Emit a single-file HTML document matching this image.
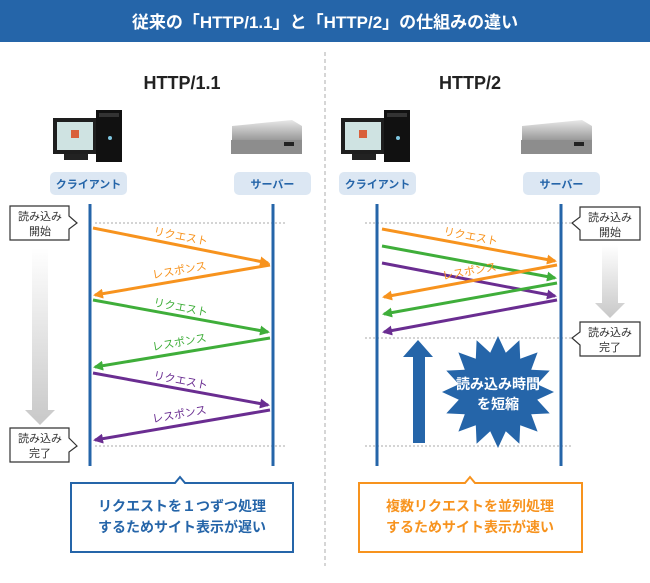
<!DOCTYPE html>
<html><head><meta charset="utf-8"><style>
html,body{margin:0;padding:0;background:#fff}
svg{display:block}
text{font-family:"Liberation Sans","Noto Sans CJK JP",sans-serif}
</style></head><body>
<svg width="650" height="583" viewBox="0 0 650 583" xmlns="http://www.w3.org/2000/svg">
<defs>
<marker id="mo" markerWidth="10" markerHeight="10" refX="8" refY="5" orient="auto" markerUnits="userSpaceOnUse"><path d="M0,0 L10,5 L0,10 z" fill="#f7931e"/></marker>
<marker id="mg" markerWidth="10" markerHeight="10" refX="8" refY="5" orient="auto" markerUnits="userSpaceOnUse"><path d="M0,0 L10,5 L0,10 z" fill="#3fae3a"/></marker>
<marker id="mp" markerWidth="10" markerHeight="10" refX="8" refY="5" orient="auto" markerUnits="userSpaceOnUse"><path d="M0,0 L10,5 L0,10 z" fill="#6a2d91"/></marker>
<linearGradient id="gg" x1="0" y1="0" x2="0" y2="1"><stop offset="0" stop-color="#fff"/><stop offset="1" stop-color="#c8c8c8"/></linearGradient>
<linearGradient id="sv" x1="0" y1="0" x2="0" y2="1"><stop offset="0" stop-color="#e8e8e8"/><stop offset="0.5" stop-color="#a9a9a9"/><stop offset="1" stop-color="#6e6e6e"/></linearGradient>
</defs>
<rect x="0" y="0" width="650" height="42" fill="#2565a9"/>
<text x="325" y="28" text-anchor="middle" font-size="17" font-weight="bold" fill="#fff">従来の「HTTP/1.1」と「HTTP/2」の仕組みの違い</text>
<line x1="325" y1="52" x2="325" y2="566" stroke="#c8c8c8" stroke-width="1.5" stroke-dasharray="4,3"/>
<text x="182" y="89" text-anchor="middle" font-size="18" font-weight="bold" fill="#222">HTTP/1.1</text>
<text x="470" y="89" text-anchor="middle" font-size="18" font-weight="bold" fill="#222">HTTP/2</text>

<!-- computers -->
<g id="pc">
<rect x="53" y="118" width="44" height="36" fill="#1e1e1e"/>
<rect x="57" y="122" width="36" height="28" fill="#cfe3e2"/>
<rect x="71" y="130" width="8" height="8" fill="#d9603b"/>
<rect x="64" y="154" width="24" height="6" fill="#222"/>
<rect x="96" y="110" width="26" height="52" fill="#111"/>
<rect x="99" y="113" width="20" height="4" fill="#333"/>
<circle cx="110" cy="138" r="2" fill="#7fc6e0"/>
</g>
<use href="#pc" x="288" y="0"/>
<g id="srv">
<path d="M232,126 L292,120 L302,126 L302,148 L232,152 z" fill="url(#sv)"/>
<rect x="231" y="140" width="71" height="14" fill="#8d8d8d"/>
<rect x="284" y="142" width="10" height="4" fill="#222"/>
</g>
<use href="#srv" x="290" y="0"/>

<!-- labels -->
<rect x="50" y="172" width="77" height="23" rx="5" fill="#dce7f3"/>
<text x="88.5" y="188" text-anchor="middle" font-size="11" font-weight="bold" fill="#2565a9">クライアント</text>
<rect x="234" y="172" width="77" height="23" rx="5" fill="#dce7f3"/>
<text x="272.5" y="188" text-anchor="middle" font-size="11" font-weight="bold" fill="#2565a9">サーバー</text>
<rect x="339" y="172" width="77" height="23" rx="5" fill="#dce7f3"/>
<text x="377.5" y="188" text-anchor="middle" font-size="11" font-weight="bold" fill="#2565a9">クライアント</text>
<rect x="523" y="172" width="77" height="23" rx="5" fill="#dce7f3"/>
<text x="561.5" y="188" text-anchor="middle" font-size="11" font-weight="bold" fill="#2565a9">サーバー</text>

<!-- dotted -->
<g stroke="#aaa" stroke-width="1" stroke-dasharray="2,2">
<line x1="95" y1="223" x2="285" y2="223"/>
<line x1="95" y1="446" x2="285" y2="446"/>
<line x1="365" y1="223" x2="572" y2="223"/>
<line x1="365" y1="338" x2="572" y2="338"/>
<line x1="365" y1="446" x2="572" y2="446"/>
</g>
<!-- lifelines -->
<g stroke="#2565a9" stroke-width="3">
<line x1="90" y1="204" x2="90" y2="466"/>
<line x1="273" y1="204" x2="273" y2="466"/>
<line x1="377" y1="204" x2="377" y2="466"/>
<line x1="561" y1="204" x2="561" y2="466"/>
</g>

<!-- callouts -->
<g fill="#fff" stroke="#333" stroke-width="1.2">
<path d="M10,206 H69 V216 L77,223 L69,229 V240 H10 z"/>
<path d="M10,428 H69 V438 L77,446 L69,452 V462 H10 z"/>
<path d="M640,207 H580 V217 L572,223 L580,230 V240 H640 z"/>
<path d="M640,322 H580 V332 L572,338 L580,345 V356 H640 z"/>
</g>
<g font-size="11" fill="#333" text-anchor="middle">
<text x="40" y="220">読み込み</text><text x="40" y="235">開始</text>
<text x="40" y="442">読み込み</text><text x="40" y="457">完了</text>
<text x="610" y="221">読み込み</text><text x="610" y="236">開始</text>
<text x="610" y="336">読み込み</text><text x="610" y="351">完了</text>
</g>
<!-- gray arrows -->
<path d="M32,248 H48 V410 H55 L40,425 L25,410 H32 z" fill="url(#gg)"/>
<path d="M602,245 H618 V303 H625 L610,318 L595,303 H602 z" fill="url(#gg)"/>

<!-- left arrows -->
<g stroke-width="3" fill="none">
<line x1="93" y1="228" x2="268" y2="263" stroke="#f7931e" marker-end="url(#mo)"/>
<line x1="270" y1="265" x2="95" y2="295" stroke="#f7931e" marker-end="url(#mo)"/>
<line x1="93" y1="300" x2="268" y2="332" stroke="#3fae3a" marker-end="url(#mg)"/>
<line x1="270" y1="338" x2="95" y2="367" stroke="#3fae3a" marker-end="url(#mg)"/>
<line x1="93" y1="373" x2="268" y2="405" stroke="#6a2d91" marker-end="url(#mp)"/>
<line x1="270" y1="410" x2="95" y2="440" stroke="#6a2d91" marker-end="url(#mp)"/>
</g>
<g font-size="11">
<text x="180" y="240" text-anchor="middle" fill="#f7931e" transform="rotate(11 180 240)">リクエスト</text>
<text x="180" y="274" text-anchor="middle" fill="#f7931e" transform="rotate(-10 180 274)">レスポンス</text>
<text x="180" y="311" text-anchor="middle" fill="#3fae3a" transform="rotate(11 180 311)">リクエスト</text>
<text x="180" y="346" text-anchor="middle" fill="#3fae3a" transform="rotate(-10 180 346)">レスポンス</text>
<text x="180" y="384" text-anchor="middle" fill="#6a2d91" transform="rotate(11 180 384)">リクエスト</text>
<text x="180" y="418" text-anchor="middle" fill="#6a2d91" transform="rotate(-10 180 418)">レスポンス</text>
</g>

<!-- right arrows -->
<g stroke-width="3" fill="none">
<line x1="382" y1="229" x2="555" y2="261" stroke="#f7931e" marker-end="url(#mo)"/>
<line x1="382" y1="246" x2="555" y2="278" stroke="#3fae3a" marker-end="url(#mg)"/>
<line x1="382" y1="263" x2="555" y2="296" stroke="#6a2d91" marker-end="url(#mp)"/>
<line x1="557" y1="265" x2="384" y2="297" stroke="#f7931e" marker-end="url(#mo)"/>
<line x1="557" y1="283" x2="384" y2="314" stroke="#3fae3a" marker-end="url(#mg)"/>
<line x1="557" y1="300" x2="384" y2="332" stroke="#6a2d91" marker-end="url(#mp)"/>
</g>
<text x="470" y="240" text-anchor="middle" font-size="11" fill="#f7931e" transform="rotate(11 470 240)">リクエスト</text>
<text x="470" y="275" text-anchor="middle" font-size="11" fill="#f7931e" transform="rotate(-10 470 275)">レスポンス</text>

<!-- big up arrow -->
<path d="M413,443 V357 H403 L418,340 L433,357 H425 V443 z" fill="#2565a9"/>
<polygon fill="#2565a9" points="554,392 537.2,399.8 549.7,413.4 531.2,414.2 537.6,431.6 520.2,425.2 519.4,443.7 505.8,431.2 498,448 490.2,431.2 476.6,443.7 475.8,425.2 458.4,431.6 464.8,414.2 446.3,413.4 458.8,399.8 442,392 458.8,384.2 446.3,370.6 464.8,369.8 458.4,352.4 475.8,358.8 476.6,340.3 490.2,352.8 498,336 505.8,352.8 519.4,340.3 520.2,358.8 537.6,352.4 531.2,369.8 549.7,370.6 537.2,384.2"/>
<text x="498" y="389" text-anchor="middle" font-size="14" font-weight="bold" fill="#fff">読み込み時間</text>
<text x="498" y="409" text-anchor="middle" font-size="14" font-weight="bold" fill="#fff">を短縮</text>

<!-- bottom boxes -->
<path d="M71,483 H175 L180,477 L185,483 H293 V552 H71 z" fill="#fff" stroke="#2565a9" stroke-width="2"/>
<text x="182" y="511" text-anchor="middle" font-size="14" font-weight="bold" fill="#2565a9">リクエストを１つずつ処理</text>
<text x="182" y="532" text-anchor="middle" font-size="14" font-weight="bold" fill="#2565a9">するためサイト表示が遅い</text>
<path d="M359,483 H465 L470,477 L475,483 H582 V552 H359 z" fill="#fff" stroke="#f7931e" stroke-width="2"/>
<text x="470" y="511" text-anchor="middle" font-size="14" font-weight="bold" fill="#f7931e">複数リクエストを並列処理</text>
<text x="470" y="532" text-anchor="middle" font-size="14" font-weight="bold" fill="#f7931e">するためサイト表示が速い</text>
</svg>
</body></html>
